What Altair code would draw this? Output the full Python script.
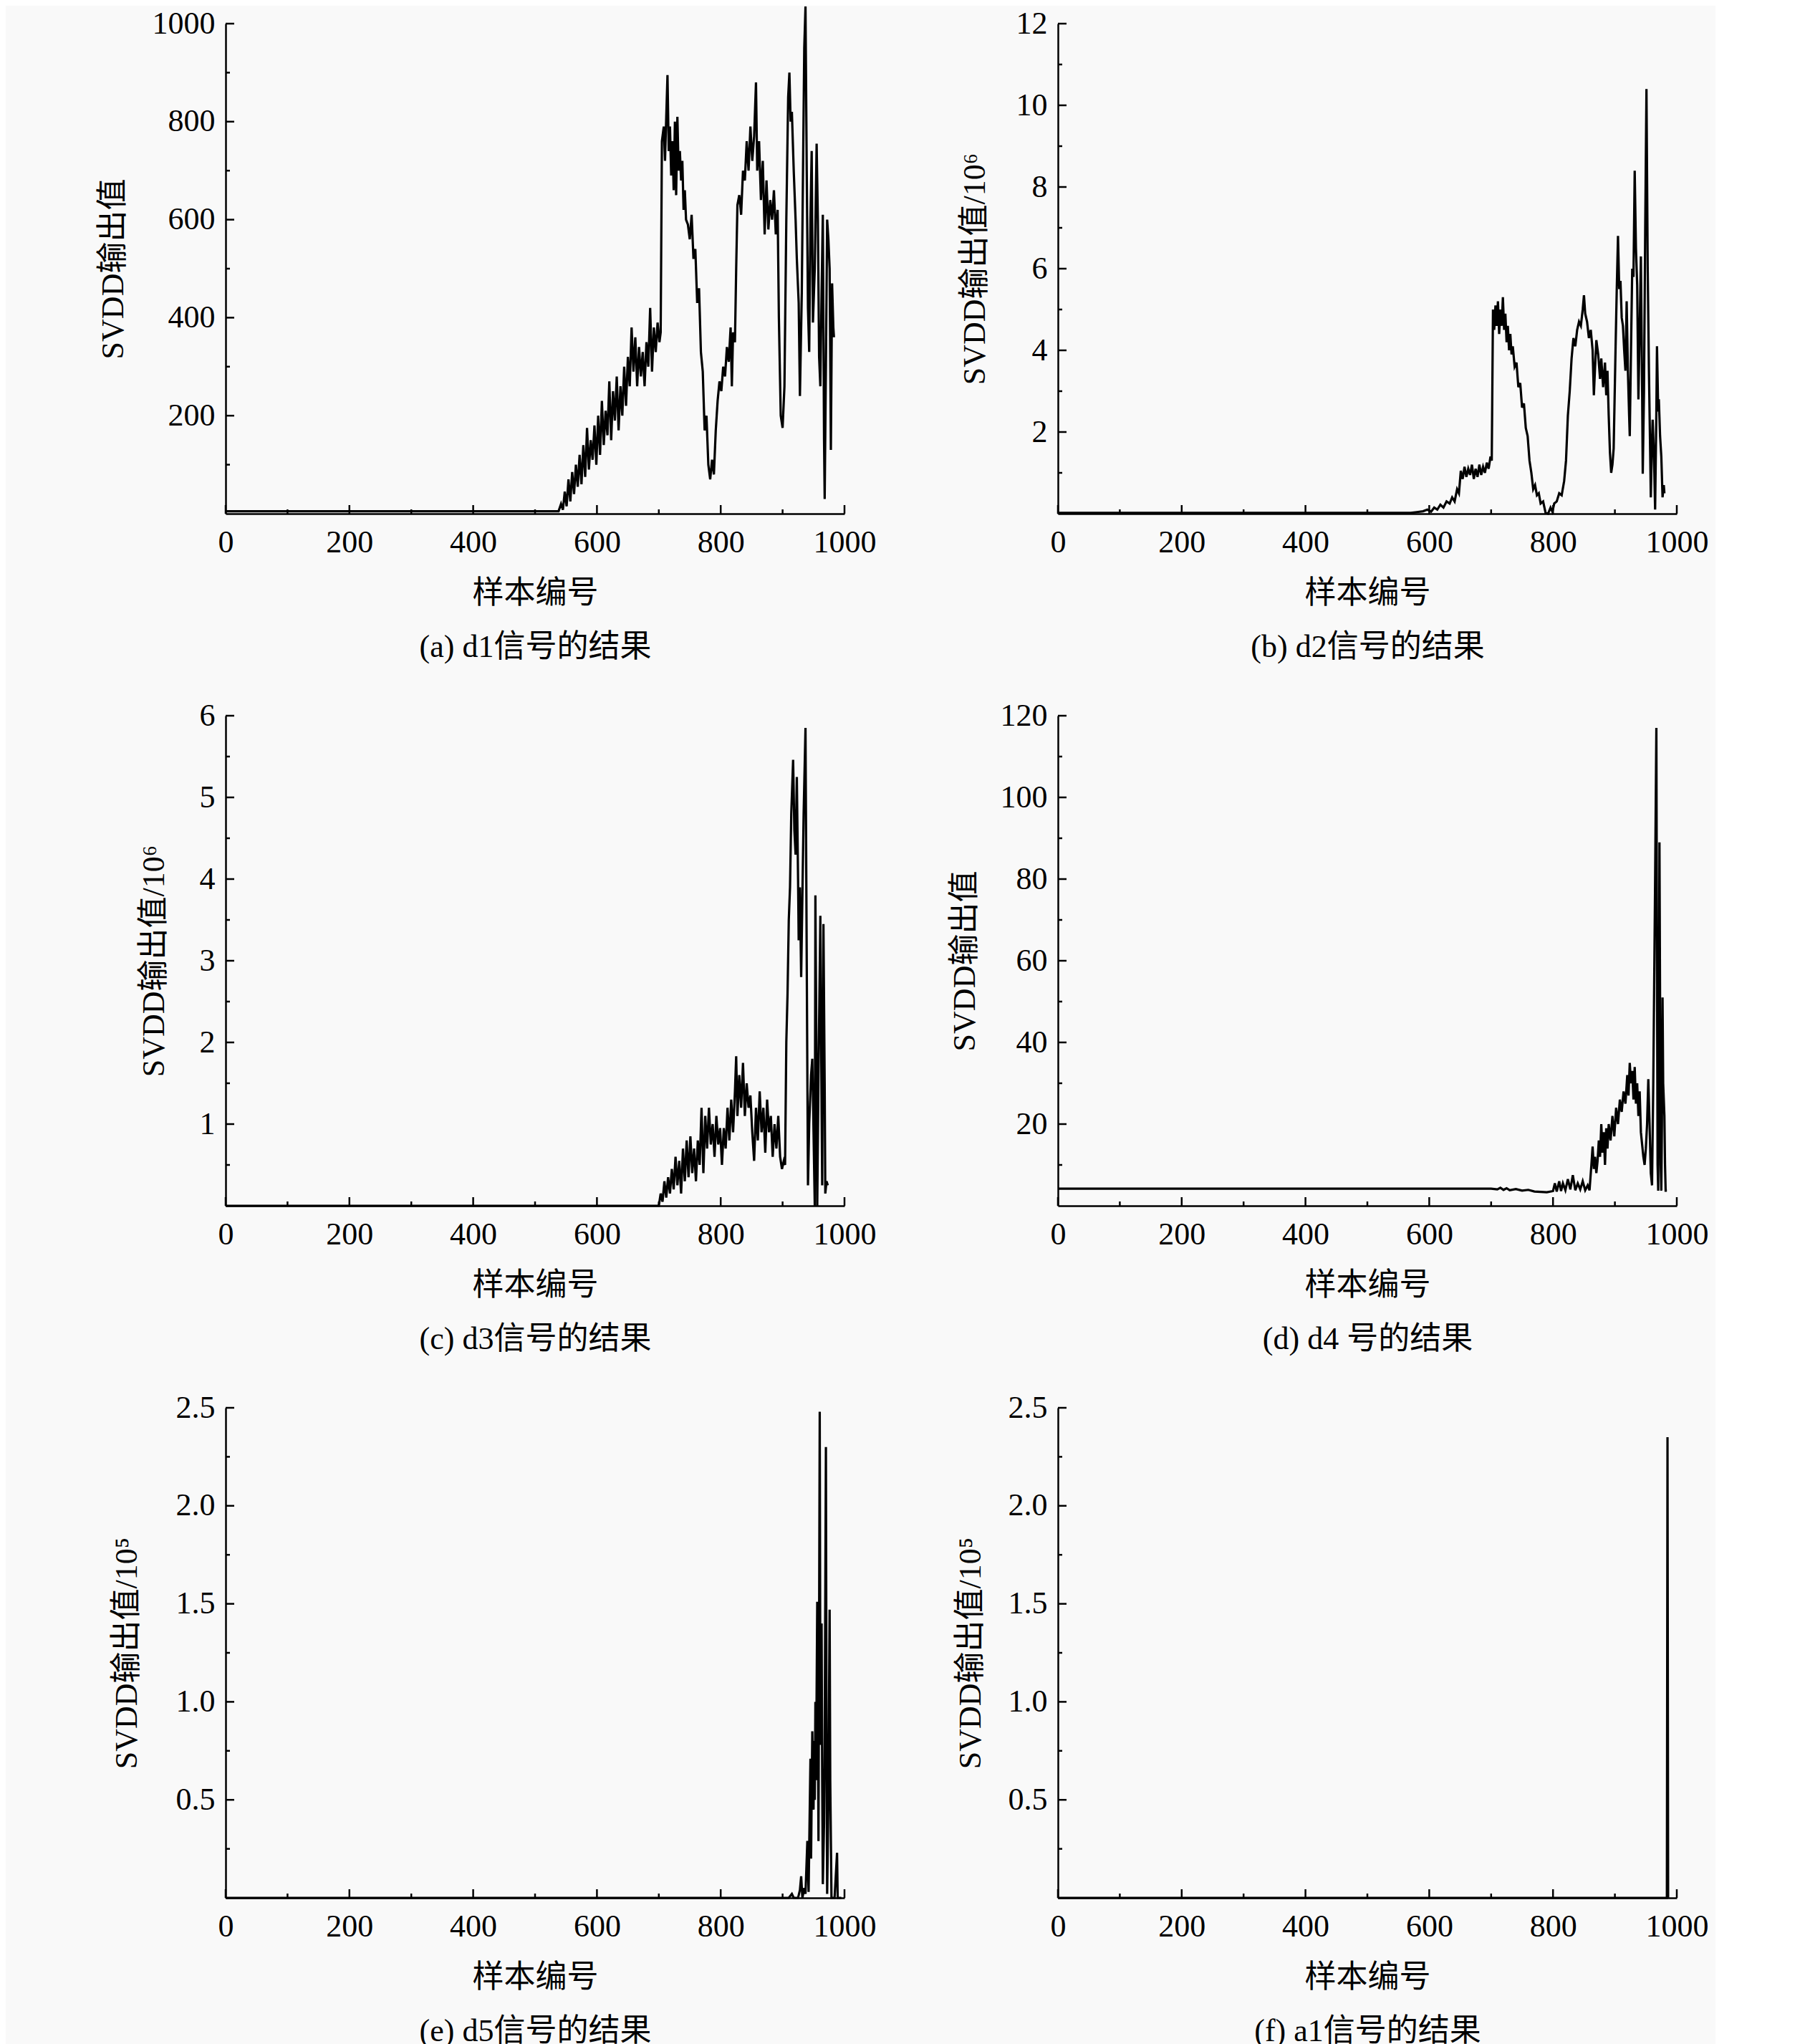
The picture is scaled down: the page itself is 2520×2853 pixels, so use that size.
import altair as alt
import pandas as pd

W, H = 864, 684
FONT = "Liberation Serif, Times New Roman, Noto Sans CJK SC"
FS = 44

X_LABELS = [0, 200, 400, 600, 800, 1000]
X_MINOR = [100, 300, 500, 700, 900]

# panel (a) d1
a_x = [0, 538, 542, 545, 548, 551, 554, 557, 560, 563, 566, 569, 572, 575, 578, 581, 584, 587, 590, 593, 596, 599, 602, 605, 608, 611, 614, 617, 620, 623, 626, 629, 632, 635, 638, 641, 644, 647, 650, 653, 656, 659, 662, 665, 668, 671, 674, 677, 680, 683, 686, 689, 692, 695, 698, 701, 703, 705, 708, 710, 712, 714, 716, 718, 720, 722, 724, 726, 728, 730, 732, 734, 736, 738, 740, 742, 744, 747, 750, 753, 756, 759, 762, 765, 768, 771, 774, 777, 780, 783, 786, 789, 792, 795, 798, 801, 804, 807, 810, 813, 816, 818, 820, 823, 825, 827, 830, 833, 836, 839, 842, 845, 848, 851, 854, 857, 859, 862, 865, 868, 871, 874, 877, 880, 883, 886, 889, 892, 894, 897, 900, 903, 906, 909, 911, 913, 915, 918, 921, 923, 926, 928, 931, 933, 935, 937, 939, 941, 943, 945, 947, 949, 952, 955, 957, 959, 961, 963, 965, 967, 968, 970, 972, 974, 976, 978, 980, 982, 983]
a_y = [5, 5, 20, 8, 45, 15, 70, 25, 85, 40, 100, 55, 120, 60, 140, 75, 175, 90, 150, 110, 180, 100, 200, 120, 230, 140, 210, 160, 270, 150, 250, 190, 280, 170, 260, 200, 300, 220, 320, 260, 380, 290, 360, 260, 340, 280, 330, 260, 350, 300, 420, 290, 380, 330, 390, 350, 370, 760, 790, 720, 810, 895, 740, 790, 690, 760, 660, 800, 650, 810, 700, 740, 680, 720, 620, 660, 600, 590, 560, 610, 520, 540, 430, 460, 330, 290, 170, 200, 100, 70, 110, 80, 170, 230, 270, 250, 300, 280, 340, 310, 380, 260, 370, 350, 500, 630, 650, 610, 700, 680, 760, 700, 790, 720, 770, 880, 700, 760, 640, 720, 570, 680, 580, 640, 600, 660, 570, 620, 400, 200, 175, 260, 600, 850, 900, 800, 820, 700, 600, 520, 430, 240, 450, 700, 950, 1035, 700, 420, 330, 600, 740, 390, 500, 755, 600, 320, 260, 450, 610, 150, 30, 300, 600, 560, 500, 130, 470, 380, 360]

# panel (b) d2, values / 10^6
b_x = [0, 570, 580, 590, 597, 603, 608, 613, 618, 623, 628, 633, 637, 641, 645, 648, 651, 654, 657, 660, 663, 666, 669, 672, 675, 678, 681, 684, 687, 690, 693, 696, 699, 701, 703, 705, 707, 709, 711, 713, 715, 717, 719, 721, 723, 725, 727, 729, 731, 733, 735, 738, 741, 744, 747, 750, 753, 756, 759, 762, 765, 768, 771, 774, 777, 780, 784, 788, 792, 796, 799, 802, 806, 810, 814, 818, 821, 824, 827, 830, 833, 836, 839, 842, 845, 848, 850, 852, 855, 858, 861, 864, 866, 868, 870, 873, 876, 878, 881, 884, 886, 888, 890, 892, 894, 896, 898, 901, 903, 905, 907, 909, 911, 913, 915, 917, 919, 921, 923, 924, 926, 928, 930, 932, 934, 936, 938, 940, 942, 944, 945, 947, 949, 951, 953, 955, 957, 958, 960, 961, 963, 965, 967, 968, 970, 971, 973, 975, 977, 979, 980]
b_y = [0.02, 0.02, 0.04, 0.06, 0.1, 0.05, 0.15, 0.1, 0.22, 0.15, 0.3, 0.25, 0.4, 0.3, 0.6, 0.5, 1.05, 0.85, 1.15, 0.9, 1.1, 0.95, 1.2, 0.85, 1.1, 0.9, 1.2, 0.95, 1.15, 1.0, 1.25, 1.1, 1.4, 1.3, 5.0, 4.5, 5.1, 4.6, 5.2, 4.4, 5.0, 4.6, 5.3, 4.5, 4.9, 4.2, 4.6, 4.0, 4.4, 3.9, 4.1, 3.6, 3.7, 3.1, 3.2, 2.6, 2.7, 2.1, 1.9, 1.3, 1.0, 0.6, 0.7, 0.45, 0.5, 0.25, 0.3, 0.02, 0.0, 0.15, 0.05, 0.25, 0.3, 0.5, 0.45, 0.8, 1.3, 2.4, 3.0, 3.8, 4.3, 4.1, 4.5, 4.7, 4.6, 5.0, 5.35, 4.9, 4.7, 4.3, 4.5, 4.0, 2.9, 3.6, 4.25, 3.9, 3.3, 3.8, 3.1, 3.7, 2.9, 3.5, 2.4, 1.5, 1.0, 1.2, 1.6, 4.0, 5.5, 6.8, 5.5, 5.7, 4.8, 4.6, 4.0, 3.5, 5.2, 3.5, 2.4, 1.9, 4.0, 6.0, 5.8, 8.4, 6.5, 5.6, 2.8, 4.5, 6.3, 3.0, 0.98, 3.0, 7.0, 10.4, 6.0, 3.5, 1.5, 0.4, 1.8, 2.3, 1.5, 0.1, 2.5, 4.1, 2.5, 2.8, 1.9, 1.4, 0.4, 0.7, 0.5]

# panel (c) d3, values / 10^6
c_x = [0, 700, 703, 706, 709, 712, 715, 718, 721, 724, 727, 730, 733, 736, 739, 742, 745, 748, 751, 754, 757, 760, 763, 766, 769, 772, 775, 778, 781, 784, 787, 790, 793, 796, 799, 802, 805, 808, 811, 814, 817, 820, 823, 825, 827, 830, 833, 836, 839, 842, 845, 848, 851, 854, 857, 860, 863, 866, 869, 872, 875, 878, 881, 884, 887, 890, 893, 896, 899, 902, 904, 906, 908, 910, 912, 914, 917, 919, 921, 923, 925, 926, 928, 930, 932, 934, 937, 939, 941, 943, 944, 946, 948, 950, 952, 953, 955, 956, 958, 961, 963, 964, 966, 968, 969, 971, 973]
c_y = [0, 0, 0.15, 0.05, 0.3, 0.1, 0.35, 0.15, 0.45, 0.2, 0.6, 0.25, 0.55, 0.15, 0.7, 0.3, 0.8, 0.35, 0.85, 0.4, 0.7, 0.3, 0.8, 0.5, 1.2, 0.4, 1.1, 0.7, 1.2, 0.75, 1.0, 0.6, 1.1, 0.75, 0.95, 0.5, 0.95, 0.7, 1.2, 0.8, 1.3, 0.9, 1.4, 1.83, 1.1, 1.6, 1.2, 1.75, 1.1, 1.5, 1.2, 1.35, 0.9, 0.55, 1.2, 0.8, 1.4, 0.9, 1.2, 0.65, 1.3, 0.9, 1.1, 0.6, 1.0, 0.7, 1.1, 0.6, 0.45, 0.55, 0.5, 2.0, 2.6, 3.5, 3.9, 4.8, 5.46, 4.6, 4.3, 5.25, 4.0, 3.25, 3.9, 2.8, 3.8, 4.8, 5.85, 3.0, 0.25, 1.0, 1.2, 1.6, 1.8, 0.9, 0.0, 3.8, 1.5, 0.0, 1.6, 3.55, 1.2, 0.25, 3.45, 1.5, 0.15, 0.3, 0.25]

# panel (d) d4
d_x = [0, 700, 710, 715, 720, 725, 730, 740, 750, 760, 770, 780, 790, 800, 803, 806, 810, 813, 816, 820, 824, 828, 832, 836, 840, 844, 848, 852, 856, 859, 862, 864, 866, 868, 870, 872, 874, 876, 878, 880, 882, 884, 886, 888, 890, 893, 896, 899, 902, 905, 908, 911, 914, 917, 920, 922, 924, 926, 928, 930, 932, 934, 936, 938, 940, 942, 944, 946, 948, 950, 952, 954, 956, 958, 960, 962, 965, 967, 968, 969, 970, 971, 972, 973, 974, 975, 976, 977, 978, 980, 981, 982, 984]
d_y = [4.2, 4.2, 4.0, 4.4, 3.9, 4.3, 3.8, 4.1, 3.7, 3.9, 3.5, 3.4, 3.3, 3.6, 5.5, 3.5, 6.0, 3.6, 5.5, 3.8, 6.5, 4.0, 7.5, 3.8, 5.5, 4.0, 6.0, 3.8, 5.0, 3.8, 10, 14.5, 9, 12, 8, 11, 16, 12, 20, 13, 18, 10, 19, 14, 20, 16, 22, 17, 24, 20, 26, 23, 28, 25, 32, 27, 35, 30, 33, 26, 34, 25, 30, 22, 28, 18, 15, 12, 10, 14, 20, 31, 20, 8, 5, 30, 80, 117, 60, 10, 3.7, 40, 89, 50, 10, 3.7, 20, 51, 30, 22, 10, 3.7, 3.7]

# panel (e) d5, values / 10^5
e_x = [0, 910, 915, 918, 925, 928, 930, 932, 935, 937, 940, 942, 945, 946, 948, 950, 951, 952, 953, 954, 956, 958, 960, 961, 962, 963, 964, 965, 967, 968, 970, 971, 972, 974, 976, 977, 979, 984, 988, 989, 995]
e_y = [0, 0, 0.02, 0, 0, 0.04, 0.11, 0, 0.05, 0.02, 0.29, 0.03, 0.71, 0.2, 0.85, 0.45, 0.8, 0.5, 1.0, 0.6, 1.51, 0.29, 2.48, 1.0, 0.78, 1.4, 0.6, 0.07, 0.38, 0.8, 2.3, 0.8, 0.02, 0.5, 1.47, 0.6, 0.0, 0.0, 0.23, 0.0, 0.0]

# panel (f) a1, values / 10^5
f_x = [0, 984, 985, 986]
f_y = [0, 0, 2.35, 0]

PANELS = [
    dict(x=a_x, y=a_y, ymax=1000, major=[200, 400, 600, 800, 1000], minor=[100, 300, 500, 700, 900],
         fmt="d", ytitle="SVDD输出值", caption="(a) d1信号的结果", tx=-157),
    dict(x=b_x, y=b_y, ymax=12, major=[2, 4, 6, 8, 10, 12], minor=[1, 3, 5, 7, 9, 11],
         fmt="d", ytitle="SVDD输出值/10⁶", caption="(b) d2信号的结果", tx=-116),
    dict(x=c_x, y=c_y, ymax=6, major=[1, 2, 3, 4, 5, 6], minor=[0.5, 1.5, 2.5, 3.5, 4.5, 5.5],
         fmt="d", ytitle="SVDD输出值/10⁶", caption="(c) d3信号的结果", tx=-100),
    dict(x=d_x, y=d_y, ymax=120, major=[20, 40, 60, 80, 100, 120], minor=[10, 30, 50, 70, 90, 110],
         fmt="d", ytitle="SVDD输出值", caption="(d) d4 号的结果", tx=-130),
    dict(x=e_x, y=e_y, ymax=2.5, major=[0.5, 1.0, 1.5, 2.0, 2.5], minor=[0.25, 0.75, 1.25, 1.75, 2.25],
         fmt=".1f", ytitle="SVDD输出值/10⁵", caption="(e) d5信号的结果", tx=-138),
    dict(x=f_x, y=f_y, ymax=2.5, major=[0.5, 1.0, 1.5, 2.0, 2.5], minor=[0.25, 0.75, 1.25, 1.75, 2.25],
         fmt=".1f", ytitle="SVDD输出值/10⁵", caption="(f) a1信号的结果", tx=-122),
]


def panel(p):
    xscale = alt.Scale(domain=[0, 1000], nice=False, zero=False)
    yscale = alt.Scale(domain=[0, p["ymax"]], nice=False, zero=False)
    xaxis = alt.Axis(
        values=X_LABELS, format="d", grid=False, ticks=False, tickSize=0,
        domainColor="black", domainWidth=2.5, labelFont=FONT, labelFontSize=FS,
        labelColor="black", labelPadding=18, labelFlush=False, labelOverlap=False,
        title=["样本编号", p["caption"]], titleFont=FONT, titleFontSize=FS,
        titleFontWeight="normal", titleColor="black", titleLineHeight=75,
        titleX=W / 2, titleY=89, titleBaseline="top", titleAlign="center")
    yaxis = alt.Axis(
        values=p["major"], format=p["fmt"], grid=False, ticks=False, tickSize=0,
        domainColor="black", domainWidth=2.5, labelFont=FONT, labelFontSize=FS,
        labelColor="black", labelPadding=15, labelFlush=False, labelOverlap=False,
        title=p["ytitle"], titleFont=FONT, titleFontSize=FS, titleFontWeight="normal",
        titleColor="black", titleX=p["tx"], titleY=H / 2, titleAngle=270,
        titleBaseline="middle", titleAlign="center")
    df = pd.DataFrame({"x": p["x"], "y": p["y"]})
    line = alt.Chart(df).mark_line(color="black", strokeWidth=3.2, clip=False).encode(
        x=alt.X("x:Q", scale=xscale, axis=xaxis),
        y=alt.Y("y:Q", scale=yscale, axis=yaxis),
    )
    xt_major = alt.Chart(pd.DataFrame({"x": X_LABELS})).mark_rule(color="black", strokeWidth=2.5).encode(
        x=alt.X("x:Q", scale=xscale, axis=xaxis), y=alt.value(H), y2=alt.value(H - 12))
    xt_minor = alt.Chart(pd.DataFrame({"x": X_MINOR})).mark_rule(color="black", strokeWidth=2.5).encode(
        x=alt.X("x:Q", scale=xscale, axis=xaxis), y=alt.value(H), y2=alt.value(H - 6))
    yt_major = alt.Chart(pd.DataFrame({"y": p["major"]})).mark_rule(color="black", strokeWidth=2.5).encode(
        y=alt.Y("y:Q", scale=yscale, axis=yaxis), x=alt.value(0), x2=alt.value(12))
    yt_minor = alt.Chart(pd.DataFrame({"y": p["minor"]})).mark_rule(color="black", strokeWidth=2.5).encode(
        y=alt.Y("y:Q", scale=yscale, axis=yaxis), x=alt.value(0), x2=alt.value(6))
    return alt.layer(line, xt_major, xt_minor, yt_major, yt_minor).properties(width=W, height=H)


chart = alt.concat(*[panel(p) for p in PANELS], columns=2,
                   spacing={"row": 282, "column": 298}, bounds="flush").properties(
    padding={"left": 128, "top": -6, "right": 10, "bottom": 4},
    background="#f9f9f9",
).configure_view(stroke=None)

chart.save("out.html", embed_options={"renderer": "svg", "actions": False})
